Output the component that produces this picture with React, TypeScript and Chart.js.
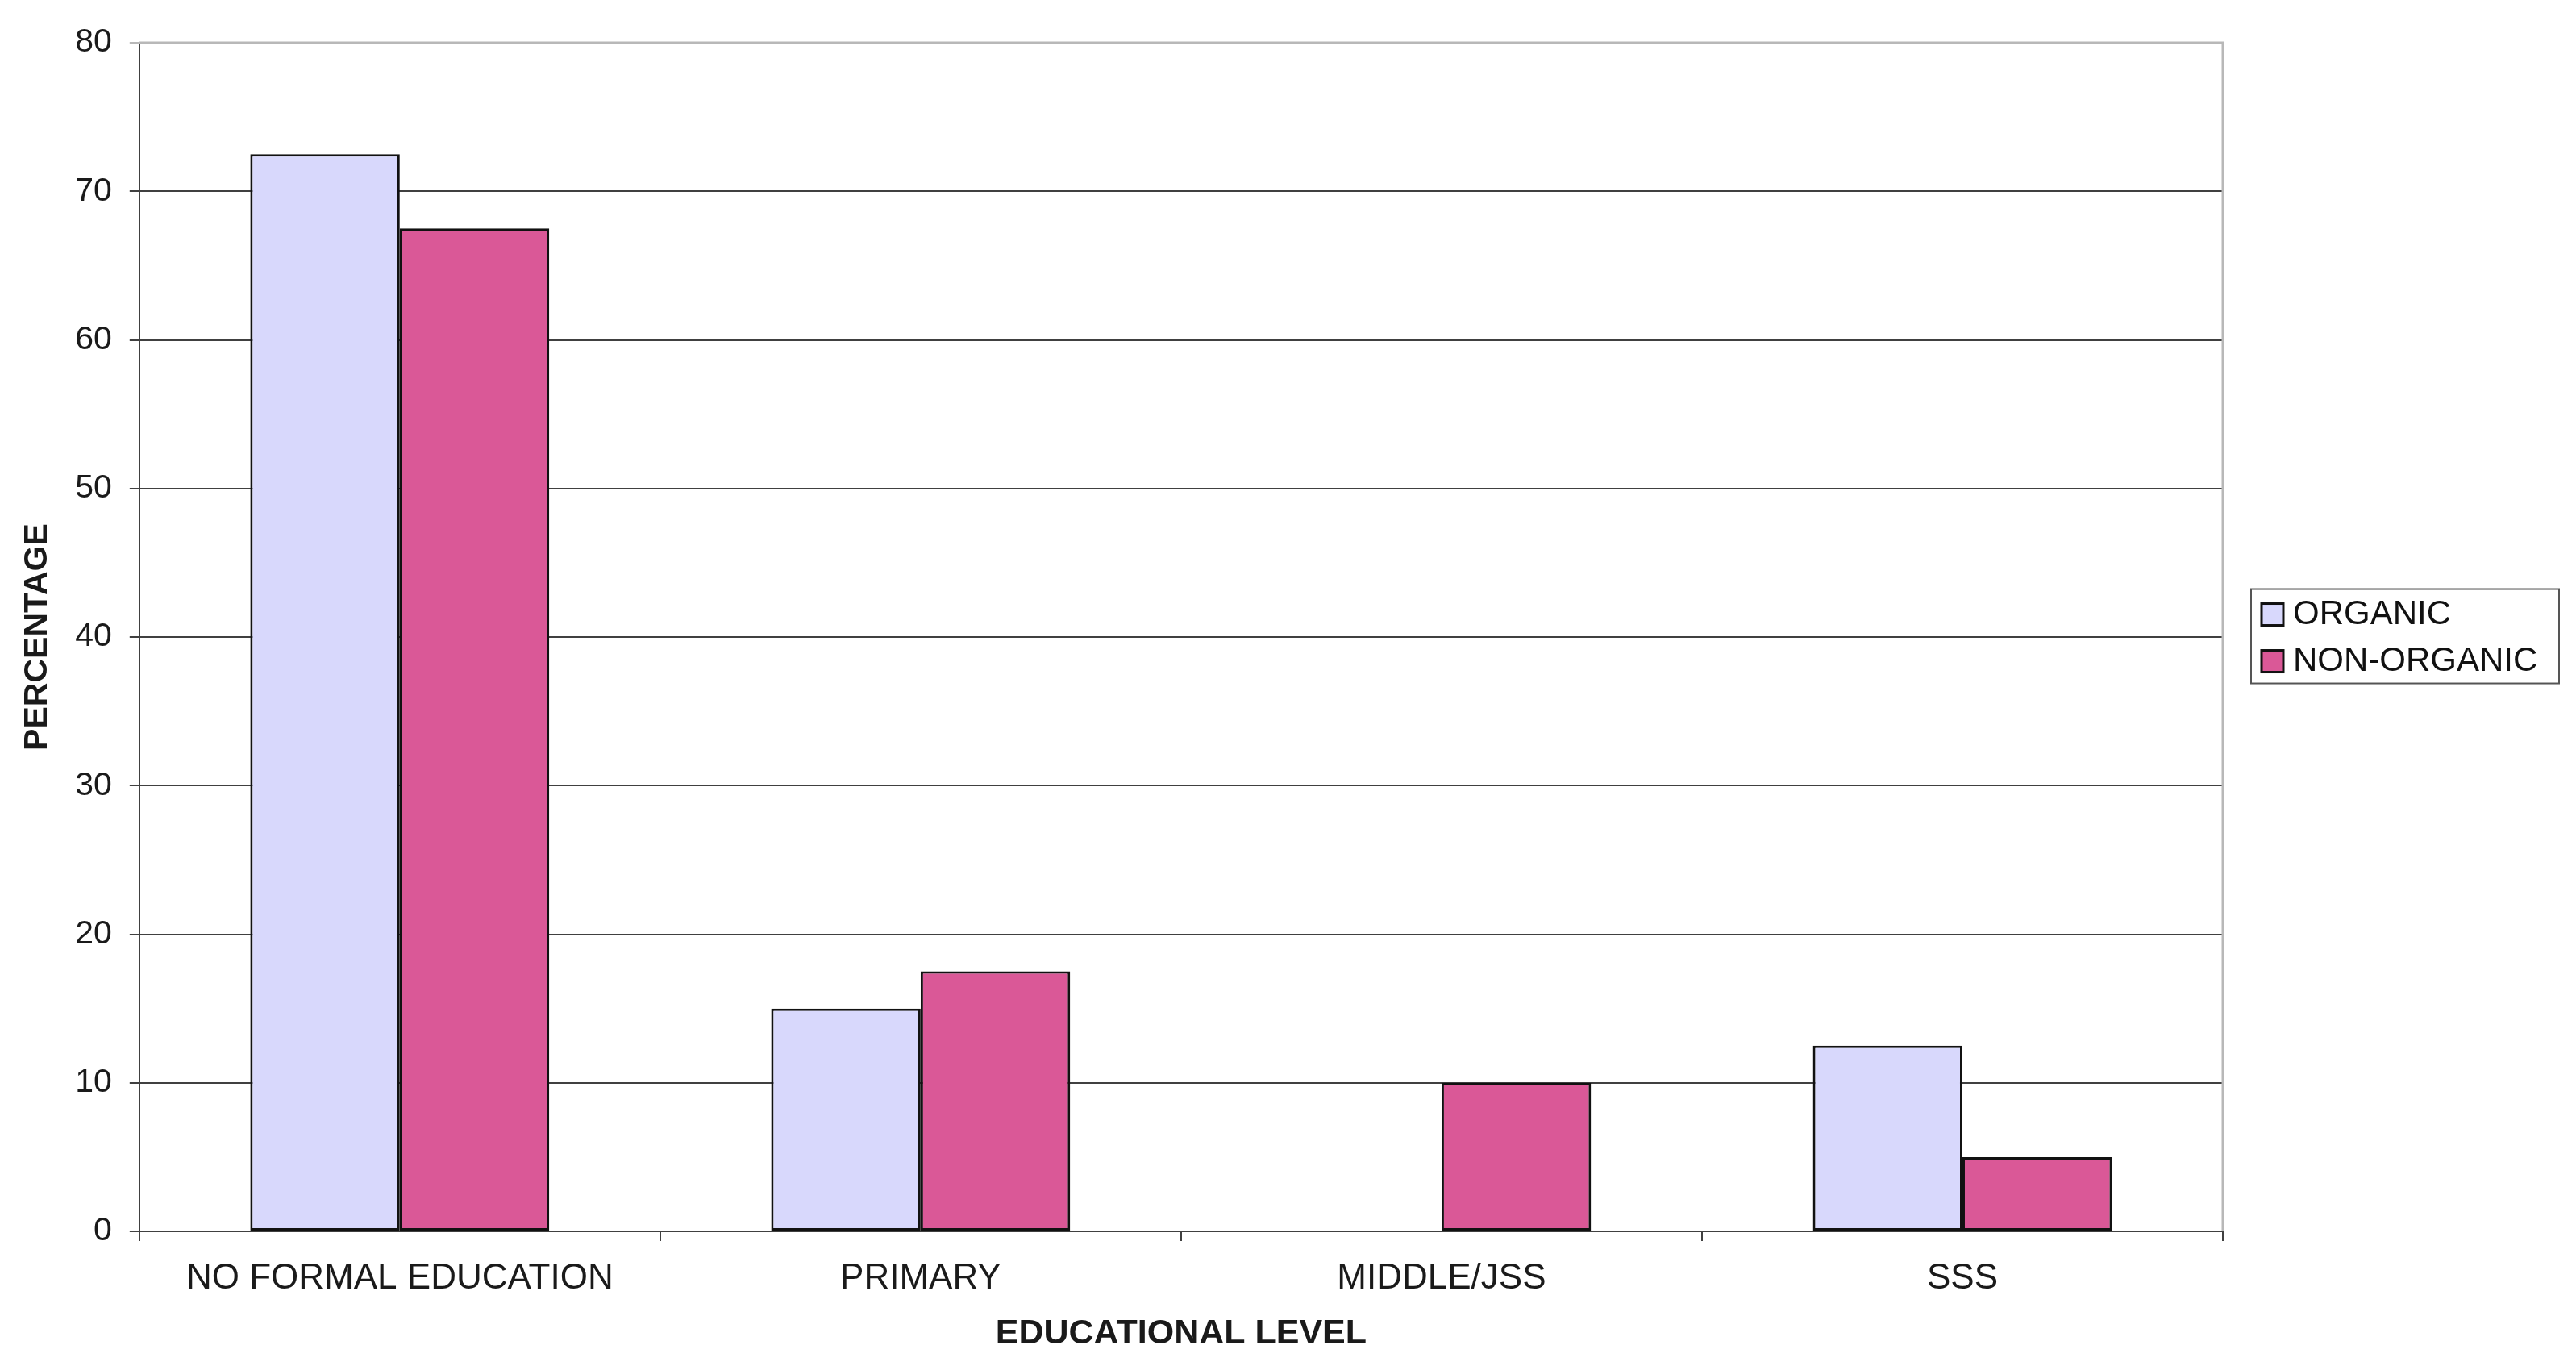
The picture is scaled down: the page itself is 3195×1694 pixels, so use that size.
import React, { useEffect, useRef } from "react";
import { Chart, registerables } from "chart.js";

Chart.register(...registerables);

const categories = ["NO FORMAL EDUCATION", "PRIMARY", "MIDDLE/JSS", "SSS"];
const organic = [72.5, 15, 0, 12.5];
const nonOrganic = [67.5, 17.5, 10, 5];
const seriesNames = ["ORGANIC", "NON-ORGANIC"];
const seriesColors = ["#D8D8FC", "#DA5897"];
const yMin = 0;
const yMax = 80;
const yStep = 10;
const xTitle = "EDUCATIONAL LEVEL";
const yTitle = "PERCENTAGE";

const FONT = "'Liberation Sans', Arial, sans-serif";

const frameAndLegend = {
  id: "frameAndLegend",
  afterDraw(chart: any) {
    const ctx = chart.ctx;
    const a = chart.chartArea;
    ctx.save();
    ctx.strokeStyle = "#B8B8B8";
    ctx.lineWidth = 3;
    ctx.beginPath();
    ctx.moveTo(a.left, a.top);
    ctx.lineTo(a.right, a.top);
    ctx.lineTo(a.right, a.bottom);
    ctx.stroke();

    const lx = a.right + 35;
    const lw = 382;
    const lh = 117;
    const ly = (a.top + a.bottom) / 2 - lh / 2 - 1;
    ctx.fillStyle = "#ffffff";
    ctx.fillRect(lx, ly, lw, lh);
    ctx.strokeStyle = "#555555";
    ctx.lineWidth = 2;
    ctx.strokeRect(lx, ly, lw, lh);
    ctx.font = `42px ${FONT}`;
    ctx.textBaseline = "middle";
    ctx.textAlign = "left";
    chart.data.datasets.forEach((ds: any, i: number) => {
      const cy = ly + 31 + i * 58;
      ctx.fillStyle = ds.backgroundColor;
      ctx.fillRect(lx + 13, cy - 13, 27, 27);
      ctx.strokeStyle = "#111";
      ctx.lineWidth = 3;
      ctx.strokeRect(lx + 13, cy - 13, 27, 27);
      ctx.fillStyle = "#111";
      ctx.fillText(ds.label, lx + 52, cy + 1);
    });
    ctx.restore();
  },
};

export default function App() {
  const ref = useRef<HTMLCanvasElement>(null);
  useEffect(() => {
    if (!ref.current) return;
    const mk = (i: number, data: number[]) => ({
      label: seriesNames[i],
      data,
      backgroundColor: seriesColors[i],
      borderColor: "#111111",
      borderWidth: 3,
      borderSkipped: false as any,
      categoryPercentage: 0.574,
      barPercentage: 1,
    });
    const chart = new Chart(ref.current, {
      type: "bar",
      data: {
        labels: categories,
        datasets: [mk(0, organic), mk(1, nonOrganic)],
      },
      options: {
        responsive: false,
        animation: false,
        layout: { padding: { top: 53, right: 438, bottom: 17, left: 22 } },
        plugins: {
          legend: { display: false },
          tooltip: { enabled: false },
        },
        scales: {
          x: {
            offset: true,
            grid: {
              display: true,
              offset: true,
              drawOnChartArea: false,
              drawTicks: true,
              tickLength: 12,
              color: "#404040",
              lineWidth: 2,
            },
            border: { display: true, color: "#404040", width: 2 },
            ticks: {
              color: "#1a1a1a",
              font: { family: FONT, size: 44 },
              padding: 20,
              maxRotation: 0,
              autoSkip: false,
            },
            title: {
              display: true,
              text: xTitle,
              color: "#1a1a1a",
              font: { family: FONT, size: 43, weight: "bold", lineHeight: 1.05 },
              padding: { top: 0, bottom: 0 },
            },
          },
          y: {
            min: yMin,
            max: yMax,
            ticks: {
              stepSize: yStep,
              color: "#1a1a1a",
              font: { family: FONT, size: 41 },
              padding: 22,
            },
            grid: {
              color: (c: any) => (c.tick && c.tick.value === yMax ? "#B8B8B8" : "#404040"),
              lineWidth: 2,
              tickLength: 12,
              drawTicks: true,
            },
            border: { display: true, color: "#404040", width: 2 },
            title: {
              display: true,
              text: yTitle,
              color: "#1a1a1a",
              font: { family: FONT, size: 41, weight: "bold" },
              padding: { top: 0, bottom: 0 },
            },
          },
        },
      },
      plugins: [frameAndLegend],
    });
    return () => chart.destroy();
  }, []);
  return (
    <div style={{ position: "absolute", left: 0, top: 0, width: 3195, height: 1694, background: "#fff" }}>
      <canvas ref={ref} width={3195} height={1694} style={{ display: "block" }} />
    </div>
  );
}
